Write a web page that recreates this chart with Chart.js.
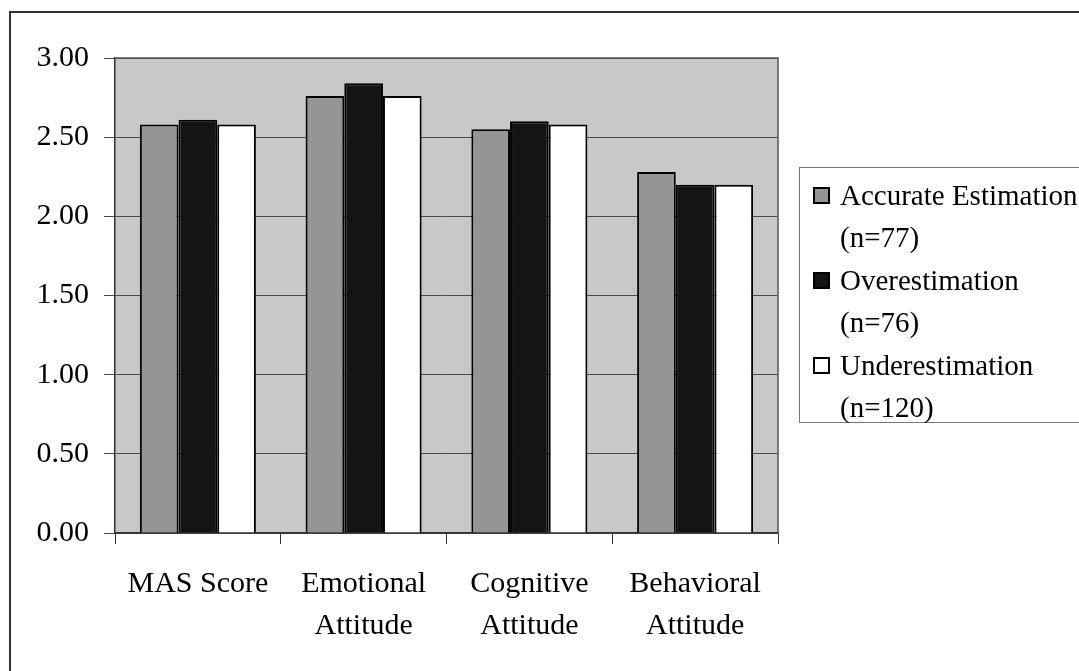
<!DOCTYPE html>
<html>
<head>
<meta charset="utf-8">
<script src="https://cdn.jsdelivr.net/npm/chart.js@4.4.1/dist/chart.umd.min.js"></script>
<style>
  html, body { margin:0; padding:0; background:#fff; }
  #wrap { position:relative; width:1079px; height:671px; overflow:hidden; background:#fff; }
  #frame { position:absolute; left:9px; top:11px; width:1200px; height:800px; border-left:2px solid #333; border-top:2px solid #333; box-sizing:border-box; }
  canvas { position:absolute; left:0; top:0; }
  #legend { position:absolute; left:799px; top:167px; width:400px; height:256px; border:1px solid #777; box-sizing:border-box; background:#fff; }
  .lg-row { position:absolute; left:0; font-family:"Liberation Serif","Times New Roman",serif; font-size:29px; color:#000; line-height:42px; white-space:nowrap; }
  .lg-sw { position:absolute; width:17px; height:17px; border:2px solid #000; box-sizing:border-box; }
</style>
</head>
<body>
<div id="wrap">
  <div id="frame"></div>
  <canvas id="c" width="1079" height="671"></canvas>
  <div id="legend"></div>
</div>
<script>
// ---- data ----
const categories = [["MAS Score"], ["Emotional", "Attitude"], ["Cognitive", "Attitude"], ["Behavioral", "Attitude"]];
const seriesNames = [["Accurate Estimation", "(n=77)"], ["Overestimation", "(n=76)"], ["Underestimation", "(n=120)"]];
const accurate = [2.58, 2.76, 2.55, 2.28];
const overestimation = [2.61, 2.84, 2.60, 2.20];
const underestimation = [2.58, 2.76, 2.58, 2.20];
const yTicks = [0, 0.5, 1, 1.5, 2, 2.5, 3];

const colors = ["#959595", "#141414", "#ffffff"];
const values = [accurate, overestimation, underestimation];

const plotBg = {
  id: 'plotBg',
  beforeDraw(chart) {
    const {ctx, chartArea: a} = chart;
    ctx.save();
    ctx.fillStyle = '#c8c8c8';
    ctx.fillRect(a.left, a.top, a.right - a.left, a.bottom - a.top);
    ctx.restore();
  },
  afterDatasetsDraw(chart) {
    const {ctx, chartArea: a} = chart;
    ctx.save();
    ctx.strokeStyle = '#555';
    ctx.lineWidth = 1.5;
    ctx.beginPath();
    ctx.moveTo(a.left, a.top); ctx.lineTo(a.right, a.top); ctx.lineTo(a.right, a.bottom);
    ctx.stroke();
    ctx.restore();
  }
};

const FONT = "'Liberation Serif','Times New Roman',serif";

new Chart(document.getElementById('c'), {
  type: 'bar',
  data: {
    labels: categories,
    datasets: values.map((v, i) => ({
      label: seriesNames[i].join(' '),
      data: v,
      backgroundColor: colors[i],
      borderColor: '#000',
      borderWidth: 2,
      categoryPercentage: 0.7,
      barPercentage: 1.0
    }))
  },
  options: {
    responsive: false,
    animation: false,
    layout: { padding: { left: 0, top: 58, right: 301, bottom: 0 } },
    plugins: { legend: { display: false }, tooltip: { enabled: false } },
    scales: {
      x: {
        grid: { drawOnChartArea: false, offset: true, tickLength: 11, color: '#333', lineWidth: 1 },
        border: { color: '#333', width: 1.5 },
        ticks: { color: '#000', font: { family: FONT, size: 30, lineHeight: 1.4 }, padding: 19, maxRotation: 0, autoSkip: false },
        afterFit(s) { s.height = 138; }
      },
      y: {
        min: 0, max: 3,
        afterBuildTicks(s) { s.ticks = yTicks.map(v => ({ value: v })); },
        grid: { color: '#4a4a4a', lineWidth: 1, tickLength: 11, drawTicks: true },
        border: { color: '#333', width: 1.5 },
        ticks: { color: '#000', font: { family: FONT, size: 30 }, padding: 15, callback: v => Number(v).toFixed(2) },
        afterFit(s) { s.width = 115; }
      }
    }
  },
  plugins: [plotBg]
});

// ---- HTML legend ----
const lg = document.getElementById('legend');
seriesNames.forEach((lines, i) => {
  const baseY = 6 + 85 * i;
  const sw = document.createElement('div');
  sw.className = 'lg-sw';
  sw.style.left = '13px';
  sw.style.top = (baseY + 13) + 'px';
  sw.style.background = colors[i];
  lg.appendChild(sw);
  lines.forEach((t, j) => {
    const d = document.createElement('div');
    d.className = 'lg-row';
    d.style.left = '40px';
    d.style.top = (baseY + 42 * j) + 'px';
    d.textContent = t;
    lg.appendChild(d);
  });
});
</script>
</body>
</html>
